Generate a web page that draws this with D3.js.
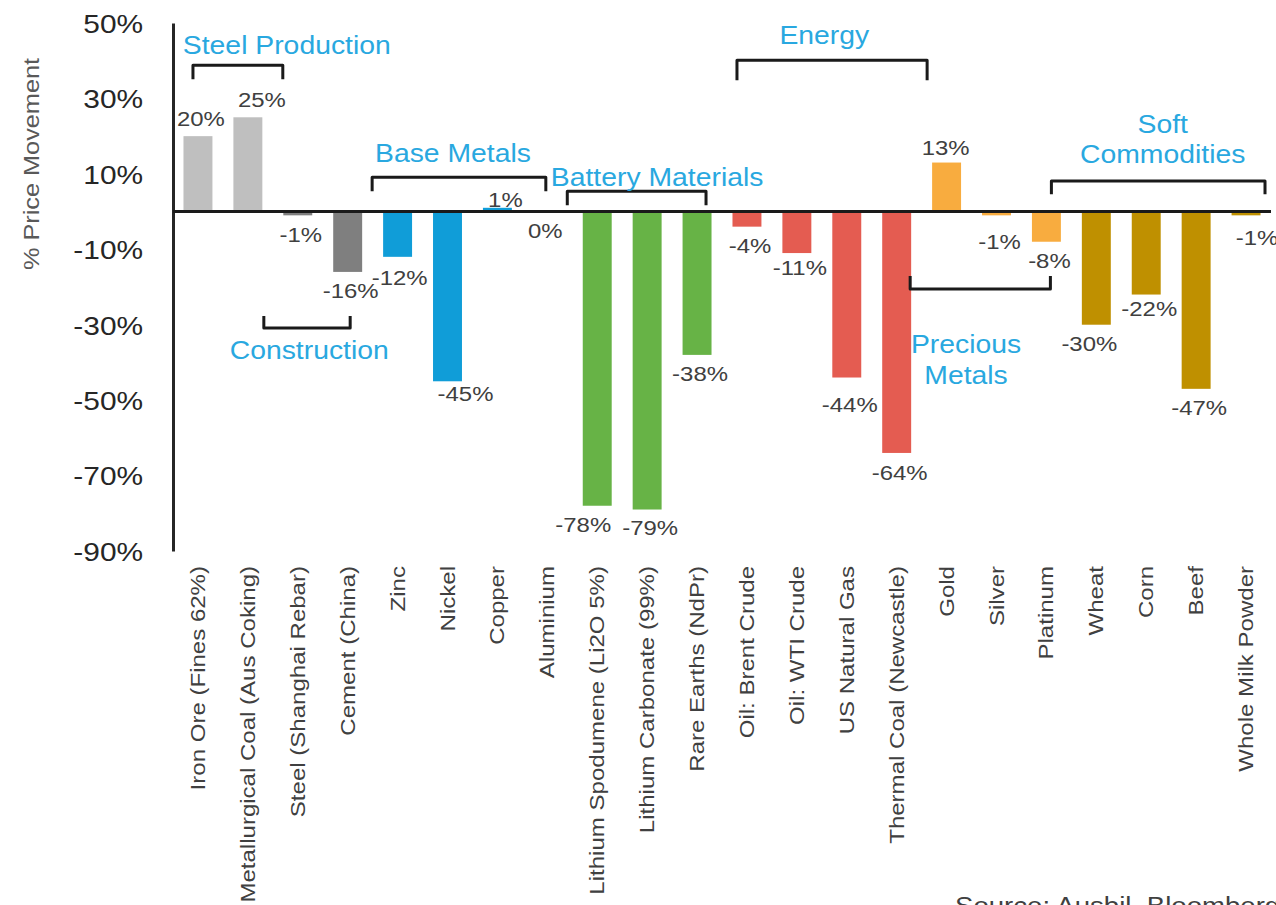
<!DOCTYPE html>
<html>
<head>
<meta charset="utf-8">
<script src="https://cdn.jsdelivr.net/npm/d3@7"></script>
<style>
  html, body { margin: 0; padding: 0; background: #ffffff; }
  svg { display: block; }
  text { font-family: "Liberation Sans", Arial, sans-serif; }
</style>
</head>
<body>
<svg id="chart" width="1276" height="905"></svg>
<script>
// Commodity price moves (%)
const categories = [
  "Iron Ore (Fines 62%)", "Metallurgical Coal (Aus Coking)", "Steel (Shanghai Rebar)", "Cement (China)",
  "Zinc", "Nickel", "Copper", "Aluminium",
  "Lithium Spodumene (Li2O 5%)", "Lithium Carbonate (99%)", "Rare Earths (NdPr)",
  "Oil: Brent Crude", "Oil: WTI Crude", "US Natural Gas", "Thermal Coal (Newcastle)",
  "Gold", "Silver", "Platinum",
  "Wheat", "Corn", "Beef", "Whole Milk Powder"
];
const values = [20, 25, -1, -16, -12, -45, 1, 0, -78, -79, -38, -4, -11, -44, -64, 13, -1, -8, -30, -22, -47, -1];
const sectors = [
  "Steel Production", "Steel Production", "Construction", "Construction",
  "Base Metals", "Base Metals", "Base Metals", "Base Metals",
  "Battery Materials", "Battery Materials", "Battery Materials",
  "Energy", "Energy", "Energy", "Energy",
  "Precious Metals", "Precious Metals", "Precious Metals",
  "Soft Commodities", "Soft Commodities", "Soft Commodities", "Soft Commodities"
];
const yTicks = [50, 30, 10, -10, -30, -50, -70, -90];
const yTitle = "% Price Movement";
const sourceNote = "Source: Ausbil, Bloomberg";

const sectorColor = {
  "Steel Production": "#bfbfbf",
  "Construction": "#7f7f7f",
  "Base Metals": "#109dd8",
  "Battery Materials": "#67b346",
  "Energy": "#e45c51",
  "Precious Metals": "#f8ac3f",
  "Soft Commodities": "#bf9000"
};

const svg = d3.select("#chart");

const x = d3.scaleBand()
  .domain(categories)
  .range([173, 1271])
  .paddingInner(0.42)
  .paddingOuter(0.21);

const y = d3.scaleLinear()
  .domain([-90, 50])
  .range([551, 23]);

// fractional category position -> pixel
const xu = u => x.range()[0] + u * x.step();

// horizontally widened text helper
function wideText(g, str, px, py, opts) {
  const k = opts.k || 1.1;
  const rot = opts.rotate ? ` rotate(${opts.rotate})` : "";
  return g.append("text")
    .attr("transform", `translate(${px},${py})${rot} scale(${k},1)`)
    .attr("text-anchor", opts.anchor || "middle")
    .attr("font-size", opts.size)
    .attr("fill", opts.fill)
    .text(str);
}

// Bars
svg.append("g")
  .selectAll("rect")
  .data(values)
  .join("rect")
  .attr("x", (d, i) => x(categories[i]))
  .attr("width", x.bandwidth())
  .attr("y", d => y(Math.max(0, d)))
  .attr("height", d => Math.abs(y(d) - y(0)))
  .attr("fill", (d, i) => sectorColor[sectors[i]]);

// Y axis
const yAxis = svg.append("g")
  .attr("transform", `translate(${x.range()[0]},0)`)
  .call(d3.axisLeft(y).tickValues(yTicks).tickSize(0).tickSizeOuter(0).tickPadding(0)
    .tickFormat(d => d + "%"));
yAxis.select(".domain").attr("stroke", "#262626").attr("stroke-width", 3);
yAxis.selectAll(".tick text")
  .attr("x", -26)
  .attr("dy", "0.36em")
  .attr("transform", "scale(1.15,1)")
  .attr("font-size", 26)
  .attr("font-family", "Liberation Sans, Arial, sans-serif")
  .attr("fill", "#262626");

// Zero baseline
svg.append("line")
  .attr("x1", x.range()[0]).attr("x2", x.range()[1])
  .attr("y1", y(0)).attr("y2", y(0))
  .attr("stroke", "#1a1a1a").attr("stroke-width", 3);

// Y axis title
wideText(svg, yTitle, 39, 164, { rotate: -90, size: 22, fill: "#595959", k: 1.15 });

// Category labels under the plot
const xLab = svg.append("g");
categories.forEach((c, i) => {
  const cx = x(c) + x.bandwidth() / 2;
  wideText(xLab, c, cx + 7, 566, { rotate: -90, size: 21, fill: "#404040", anchor: "end", k: 1.145 });
});

// Value labels (outside end), with small offsets where labels would collide
const labelNudge = {
  "Metallurgical Coal (Aus Coking)": [11, 0],
  "Copper": [5, 10],
  "Nickel": [15, -7],
  "Aluminium": [-5, 0],
  "Lithium Spodumene (Li2O 5%)": [-17, 0],
  "Lithium Carbonate (99%)": [0, -1],
  "Oil: WTI Crude": [0, -5],
  "US Natural Gas": [0, 8],
  "Gold": [-4, 3],
  "Silver": [0, 7],
  "Wheat": [-10, 0],
  "Corn": [0, -5],
  "Whole Milk Powder": [8, 3],
  "Zinc": [-1, 2]
};
const valLab = svg.append("g");
const labelSize = 21;
values.forEach((v, i) => {
  const c = categories[i];
  const n = labelNudge[c] || [0, 0];
  const cx = x(c) + x.bandwidth() / 2 + 3 + n[0];
  const capMid = v > 0 ? y(v) - 18 : y(v) + 19;
  const base = capMid + 0.36 * labelSize + n[1];
  wideText(valLab, v + "%", cx, base, { size: labelSize, fill: "#404040", k: 1.14 });
});

// Sector brackets and titles (positions in category units / value units)
const brackets = [
  { lines: ["Steel Production"], u0: 0.40, u1: 2.20, bar: 38.8, tip: 35.1, tu: 2.28, tv: [44.3] },
  { lines: ["Construction"], u0: 1.82, u1: 3.55, bar: -30.9, tip: -27.7, tu: 2.73, tv: [-36.6] },
  { lines: ["Base Metals"], u0: 3.99, u1: 7.47, bar: 9.1, tip: 5.4, tu: 5.61, tv: [15.5] },
  { lines: ["Battery Materials"], u0: 7.90, u1: 10.68, bar: 5.4, tip: 1.7, tu: 9.70, tv: [9.2] },
  { lines: ["Energy"], u0: 11.30, u1: 15.11, bar: 40.1, tip: 34.8, tu: 13.05, tv: [46.8] },
  { lines: ["Precious", "Metals"], u0: 14.77, u1: 17.58, bar: -20.5, tip: -17.1, tu: 15.89, tv: [-34.9, -43.3] },
  { lines: ["Soft", "Commodities"], u0: 17.60, u1: 21.88, bar: 8.1, tip: 4.6, tu: 19.83, tv: [23.4, 15.4] }
];
const ann = svg.append("g");
const titleSize = 26;
brackets.forEach(b => {
  const p = d3.path();
  p.moveTo(xu(b.u0), y(b.tip));
  p.lineTo(xu(b.u0), y(b.bar));
  p.lineTo(xu(b.u1), y(b.bar));
  p.lineTo(xu(b.u1), y(b.tip));
  ann.append("path")
    .attr("d", p.toString())
    .attr("fill", "none")
    .attr("stroke", "#1a1a1a")
    .attr("stroke-width", 3)
    .attr("stroke-linejoin", "round");
  b.lines.forEach((t, j) => {
    wideText(ann, t, xu(b.tu), y(b.tv[j]) + 0.36 * titleSize, { size: titleSize, fill: "#29a8e0", k: 1.09 });
  });
});

// Source note
wideText(svg, sourceNote, 955, 914, { size: 24, fill: "#404040", anchor: "start", k: 1.15 });
</script>
</body>
</html>
